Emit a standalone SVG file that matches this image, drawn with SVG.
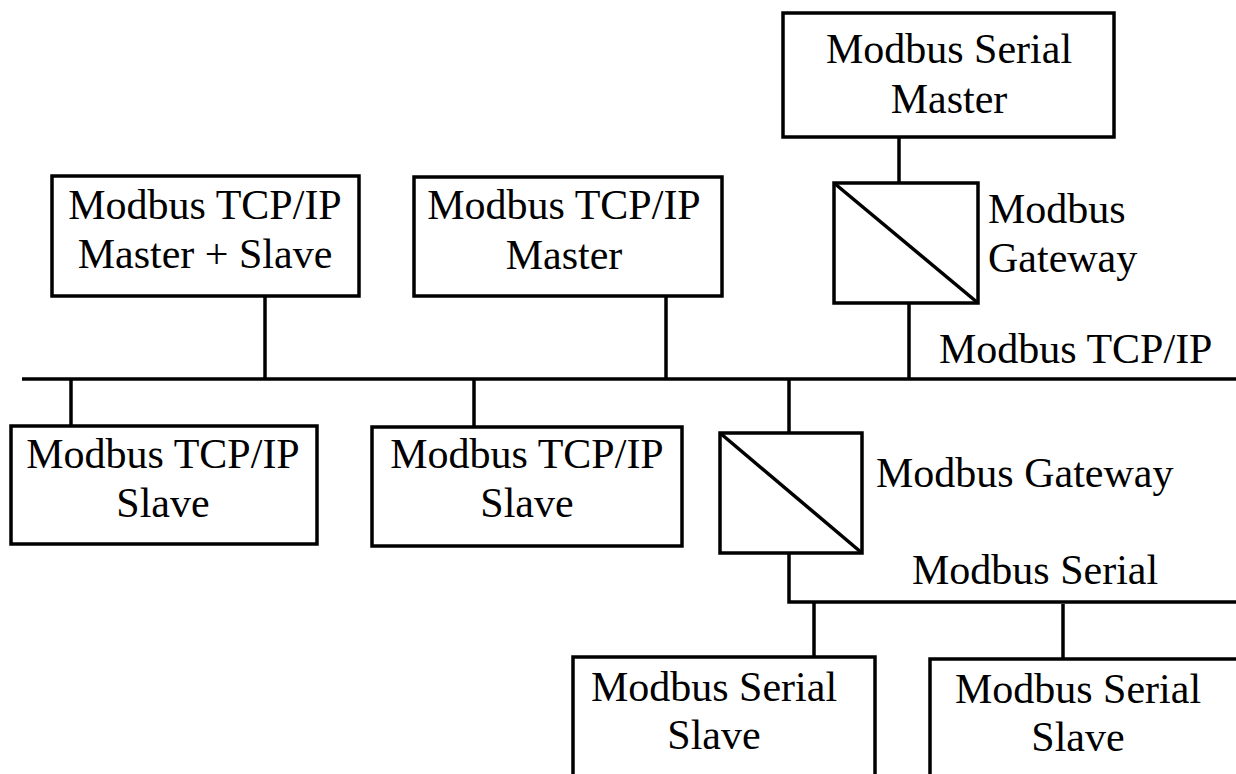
<svg xmlns="http://www.w3.org/2000/svg" width="1236" height="774" viewBox="0 0 1236 774">
  <style>
    .box { fill: #ffffff; stroke: #000000; stroke-width: 3.5; }
    .wire { fill: none; stroke: #000000; stroke-width: 3.5; }
    .lbl { font-family: "Liberation Serif", "Times New Roman", serif; font-size: 42px; fill: #000000; }
    .mid { text-anchor: middle; }
  </style>
  <rect width="1236" height="774" fill="#ffffff"/>

  <!-- network lines -->
  <g id="connectors">
    <path class="wire" d="M22 379 H1236"/>
    <path class="wire" d="M265 296 V379"/>
    <path class="wire" d="M666 296 V379"/>
    <path class="wire" d="M899 137 V183"/>
    <path class="wire" d="M909 303 V379"/>
    <path class="wire" d="M71 379 V426"/>
    <path class="wire" d="M474 379 V427"/>
    <path class="wire" d="M789 379 V433"/>
    <path class="wire" d="M789 553 V602 H1236"/>
    <path class="wire" d="M814 602 V657"/>
    <path class="wire" d="M1063 604 V659"/>
  </g>

  <g id="serial-master">
    <rect class="box" x="783" y="13" width="331" height="124"/>
    <text class="lbl mid" x="949" y="63">Modbus Serial</text>
    <text class="lbl mid" x="949" y="113">Master</text>
  </g>

  <g id="gateway-top">
    <rect class="box" x="834" y="183" width="144" height="120"/>
    <line class="wire" x1="834" y1="183" x2="978" y2="303"/>
    <text class="lbl" x="988" y="223">Modbus</text>
    <text class="lbl" x="988" y="272">Gateway</text>
  </g>

  <g id="tcp-master-slave">
    <rect class="box" x="52" y="176" width="307" height="120"/>
    <text class="lbl mid" x="205" y="219">Modbus TCP/IP</text>
    <text class="lbl mid" x="205" y="268">Master + Slave</text>
  </g>

  <g id="tcp-master">
    <rect class="box" x="414" y="177" width="308" height="119"/>
    <text class="lbl mid" x="564" y="219">Modbus TCP/IP</text>
    <text class="lbl mid" x="564" y="269">Master</text>
  </g>

  <g id="tcp-bus-label">
    <text class="lbl" x="939" y="363">Modbus TCP/IP</text>
  </g>

  <g id="tcp-slave-1">
    <rect class="box" x="11" y="426" width="306" height="118"/>
    <text class="lbl mid" x="163" y="468">Modbus TCP/IP</text>
    <text class="lbl mid" x="163" y="517">Slave</text>
  </g>

  <g id="tcp-slave-2">
    <rect class="box" x="372" y="427" width="310" height="119"/>
    <text class="lbl mid" x="527" y="468">Modbus TCP/IP</text>
    <text class="lbl mid" x="527" y="517">Slave</text>
  </g>

  <g id="gateway-bottom">
    <rect class="box" x="720" y="433" width="142" height="120"/>
    <line class="wire" x1="720" y1="433" x2="862" y2="553"/>
    <text class="lbl" x="876" y="487">Modbus Gateway</text>
  </g>

  <g id="serial-bus-label">
    <text class="lbl" x="912" y="584">Modbus Serial</text>
  </g>

  <g id="serial-slave-1">
    <rect class="box" x="573" y="657" width="302" height="200"/>
    <text class="lbl mid" x="714" y="701">Modbus Serial</text>
    <text class="lbl mid" x="714" y="749">Slave</text>
  </g>

  <g id="serial-slave-2">
    <rect class="box" x="930" y="659" width="340" height="200"/>
    <text class="lbl mid" x="1078" y="703">Modbus Serial</text>
    <text class="lbl mid" x="1078" y="751">Slave</text>
  </g>
</svg>
